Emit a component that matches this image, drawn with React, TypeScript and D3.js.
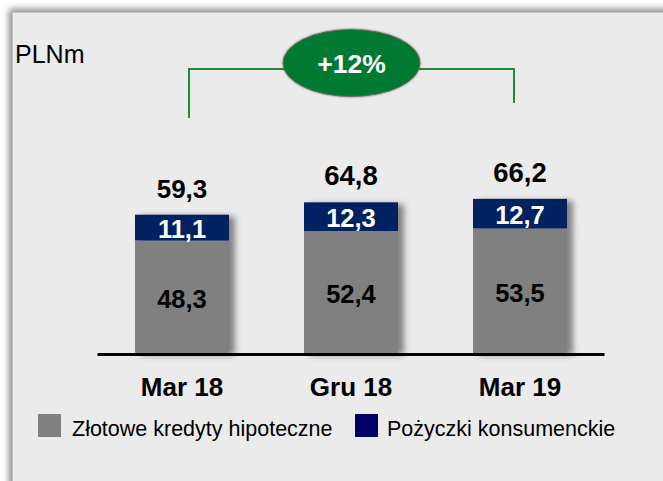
import React from "react";
import * as d3 from "d3";

const categories = ["Mar 18", "Gru 18", "Mar 19"];
const mortgages = [48.3, 52.4, 53.5];
const consumer = [11.1, 12.3, 12.7];
const totals = ["59,3", "64,8", "66,2"];
const mortgageLabels = ["48,3", "52,4", "53,5"];
const consumerLabels = ["11,1", "12,3", "12,7"];
const seriesNames = ["Złotowe kredyty hipoteczne", "Pożyczki konsumenckie"];
const growthLabel = "+12%";
const unitLabel = "PLNm";

const W = 663;
const H = 481;
const FONT = "'Liberation Sans', Arial, Helvetica, sans-serif";

export default function App() {
  const x = d3
    .scaleBand<string>()
    .domain(categories)
    .range([97.5, 604.5])
    .paddingInner(0.4438)
    .paddingOuter(0.2219);
  const y = d3.scaleLinear().domain([0, 70]).range([353, 190]);
  const bw = x.bandwidth();

  const stacked = categories.map((c, i) => ({
    c,
    x0: x(c) as number,
    gTop: y(mortgages[i]),
    nTop: y(mortgages[i] + consumer[i]),
  }));

  const bx0 = (x(categories[0]) as number) + bw / 2 + 7;
  const bx1 = (x(categories[2]) as number) + bw / 2 - 6;

  return (
    <svg
      width={W}
      height={H}
      style={{ position: "absolute", left: 0, top: 0, fontFamily: FONT }}
    >
      <defs>
        <filter id="panelShadow" x="-10%" y="-10%" width="120%" height="120%">
          <feGaussianBlur stdDeviation="3.5" />
        </filter>
        <filter id="barShadow" x="-20%" y="-20%" width="150%" height="150%">
          <feDropShadow dx="6" dy="2" stdDeviation="3" floodColor="#000" floodOpacity="0.45" />
        </filter>
        <filter id="ellShadow" x="-20%" y="-20%" width="140%" height="140%">
          <feDropShadow dx="0" dy="0" stdDeviation="1" floodColor="#000" floodOpacity="0.5" />
        </filter>
      </defs>
      <rect x={0} y={0} width={W} height={H} fill="#ffffff" />
      <rect x={9} y={9} width={720} height={520} fill="#8a8a8a" filter="url(#panelShadow)" />
      <rect x={12.5} y={12.5} width={720} height={520} fill="#ebebeb" />

      <text x={15} y={63} fontSize={25} fill="#000">
        {unitLabel}
      </text>

      {/* growth bracket */}
      <path
        d={`M${bx0},118 V69 H${bx1} V103`}
        fill="none"
        stroke="#1e8a3c"
        strokeWidth={2}
      />
      <ellipse
        cx={351.5}
        cy={63}
        rx={68.5}
        ry={33.5}
        fill="#007a33"
        stroke="#6a6a6a"
        strokeWidth={1}
        filter="url(#ellShadow)"
      />
      <text
        x={351.5}
        y={72.5}
        textAnchor="middle"
        fontSize={26.5}
        fontWeight="bold"
        fill="#ffffff"
      >
        {growthLabel}
      </text>

      {/* bars */}
      {stacked.map((s, i) => (
        <g key={s.c}>
          <g filter="url(#barShadow)">
            <rect x={s.x0} y={s.gTop} width={bw} height={y(0) - s.gTop} fill="#808080" />
            <rect x={s.x0} y={s.nTop} width={bw} height={s.gTop - s.nTop} fill="#002060" />
          </g>
          <text
            x={s.x0 + bw / 2}
            y={(s.gTop + y(0)) / 2 + 11}
            textAnchor="middle"
            fontSize={25.5}
            fontWeight="bold"
            fill="#000"
          >
            {mortgageLabels[i]}
          </text>
          <text
            x={s.x0 + bw / 2}
            y={(s.nTop + s.gTop) / 2 + 10}
            textAnchor="middle"
            fontSize={25.5}
            fontWeight="bold"
            fill="#ffffff"
          >
            {consumerLabels[i]}
          </text>
          <text
            x={s.x0 + bw / 2}
            y={s.nTop - 17}
            textAnchor="middle"
            fontSize={i === 0 ? 26 : 27.5}
            fontWeight="bold"
            fill="#000"
          >
            {totals[i]}
          </text>
          <text
            x={s.x0 + bw / 2}
            y={396}
            textAnchor="middle"
            fontSize={26}
            fontWeight="bold"
            fill="#000"
          >
            {s.c}
          </text>
        </g>
      ))}

      {/* axis */}
      <line x1={97.5} x2={604.5} y1={354.5} y2={354.5} stroke="#000" strokeWidth={3} />

      {/* legend */}
      <rect x={38} y={414} width={23} height={23} fill="#808080" />
      <text x={72} y={436} fontSize={21.5} fill="#000">
        {seriesNames[0]}
      </text>
      <rect x={355} y={414} width={23} height={23} fill="#000066" />
      <text x={387} y={436} fontSize={21.5} fill="#000">
        {seriesNames[1]}
      </text>
    </svg>
  );
}
